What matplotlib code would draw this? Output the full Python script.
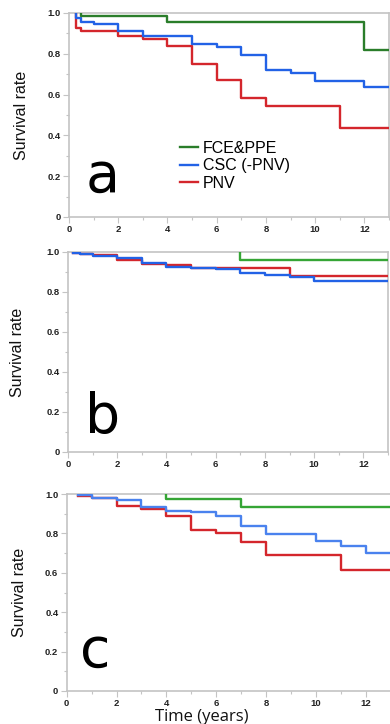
import matplotlib
matplotlib.use("Agg")
import matplotlib.pyplot as plt
from matplotlib.ticker import MultipleLocator, FuncFormatter

# ---------------- data ----------------
follow_up_end = 13
legend_labels = ["FCE&PPE", "CSC (-PNV)", "PNV"]
panel_letters = ["a", "b", "c"]
x_ticks = [0, 2, 4, 6, 8, 10, 12]
y_ticks = [0, 0.2, 0.4, 0.6, 0.8, 1.0]

# panel a
green_a_t = [0.5, 0.5, 4, 12]
green_a_s = [1.0, 0.986, 0.956, 0.82]
blue_a_t = [0.27, 0.27, 0.5, 1, 2, 3, 4, 5, 6, 7, 8, 9, 10, 12]
blue_a_s = [1.0, 0.975, 0.955, 0.945, 0.91, 0.889, 0.885, 0.847, 0.832, 0.792, 0.72, 0.705, 0.669, 0.636]
red_a_t = [0.27, 0.27, 0.5, 2, 3, 4, 5, 6, 7, 8, 11]
red_a_s = [1.0, 0.925, 0.913, 0.885, 0.872, 0.838, 0.749, 0.672, 0.585, 0.543, 0.434]

# panel b
green_b_t = [7, 7]
green_b_s = [1.0, 0.958]
blue_b_t = [0.2, 0.5, 1, 2, 3, 4, 5, 6, 7, 8, 9, 10]
blue_b_s = [0.996, 0.988, 0.98, 0.971, 0.945, 0.925, 0.919, 0.914, 0.897, 0.887, 0.874, 0.857]
red_b_t = [0.2, 0.5, 1, 2, 3, 4, 5, 9]
red_b_s = [0.996, 0.99, 0.987, 0.96, 0.938, 0.935, 0.92, 0.88]

# panel c
green_c_t = [4, 4, 7]
green_c_s = [1.0, 0.976, 0.932]
blue_c_t = [0.45, 1, 2, 3, 4, 5, 6, 7, 8, 10, 11, 12]
blue_c_s = [0.995, 0.981, 0.968, 0.935, 0.915, 0.907, 0.89, 0.84, 0.796, 0.762, 0.737, 0.703]
red_c_t = [0.45, 1, 2, 3, 4, 5, 6, 7, 8, 11]
red_c_s = [0.99, 0.981, 0.937, 0.925, 0.886, 0.818, 0.80, 0.757, 0.688, 0.613]

panels = [
    (green_a_t, green_a_s, blue_a_t, blue_a_s, red_a_t, red_a_s),
    (green_b_t, green_b_s, blue_b_t, blue_b_s, red_b_t, red_b_s),
    (green_c_t, green_c_s, blue_c_t, blue_c_s, red_c_t, red_c_s),
]

green_cols = ["#2a7d2a", "#35a535", "#35a535"]
blue_cols = ["#2262e6", "#2262e6", "#4a82ee"]
red_col = "#d4262c"

W, H = 390, 724
fig = plt.figure(figsize=(W / 100, H / 100), dpi=100)

# axes boxes in pixels: left, right, top, bottom
boxes = [(69, 389, 13, 217), (68, 388, 252, 452), (66.7, 390.7, 494, 691)]
ylabel_x = [22, 18, 20]
letter_pos = [(86, 192), (85, 433), (80, 667)]

font = "Liberation Sans"
spine_col = "#c4c4c4"

for i, (box, data) in enumerate(zip(boxes, panels)):
    l, r, t, b = box
    ax = fig.add_axes([l / W, 1 - b / H, (r - l) / W, (b - t) / H])
    gt, gs, bt, bs, rt, rs = data
    lw = 1.7
    ax.step(list(rt) + [follow_up_end], list(rs) + [rs[-1]], where="post",
            color=red_col, lw=lw, label=legend_labels[2], zorder=3)
    ax.step(list(bt) + [follow_up_end], list(bs) + [bs[-1]], where="post",
            color=blue_cols[i], lw=lw, label=legend_labels[1], zorder=4)
    ax.step(list(gt) + [follow_up_end], list(gs) + [gs[-1]], where="post",
            color=green_cols[i], lw=lw, label=legend_labels[0], zorder=5)
    ax.set_xlim(0, follow_up_end)
    ax.set_ylim(0, 1.0)
    ax.set_xticks(x_ticks)
    ax.set_yticks(y_ticks)
    ax.xaxis.set_minor_locator(MultipleLocator(1))
    ax.yaxis.set_minor_locator(MultipleLocator(0.1))
    ax.yaxis.set_major_formatter(FuncFormatter(lambda v, p: "0" if abs(v) < 1e-9 else f"{v:.1f}"))
    for s in ax.spines.values():
        s.set_color(spine_col)
        s.set_linewidth(1.2)
        s.set_zorder(1)
    ax.tick_params(which="major", direction="out", length=4, width=0.8, color=spine_col,
                   labelsize=6.8, labelcolor="#222222", pad=2)
    ax.tick_params(which="minor", direction="out", length=2.5, width=0.8, color=spine_col)
    for lab in ax.get_xticklabels() + ax.get_yticklabels():
        lab.set_fontfamily(font)
        lab.set_fontweight("bold")
    # y label
    yc = 1 - (t + b) / 2 / H
    fig.text(ylabel_x[i] / W, yc, "Survival rate", rotation=90, ha="center", va="center",
             fontsize=11.5, family=font, color="#111111")
    lx, ly = letter_pos[i]
    fig.text(lx / W, 1 - ly / H, panel_letters[i], ha="left", va="baseline",
             fontsize=40, family="DejaVu Sans", color="black")
    if i == 0:
        handles, labels = ax.get_legend_handles_labels()
        order = [2, 1, 0]
        ax.legend([handles[k] for k in order], [labels[k] for k in order],
                  loc="upper left",
                  bbox_to_anchor=((180 - l) / (r - l), 1 - (141 - t) / (b - t)),
                  frameon=False, prop={"family": font, "size": 11.5},
                  handlelength=1.15, handletextpad=0.3, labelspacing=0.15,
                  borderaxespad=0, borderpad=0)

fig.text(202 / W, 1 - 721 / H, "Time (years)", ha="center", va="baseline",
         fontsize=12, family="Open Sans", color="#111111")

fig.savefig("out.png", dpi=100, facecolor="white")
